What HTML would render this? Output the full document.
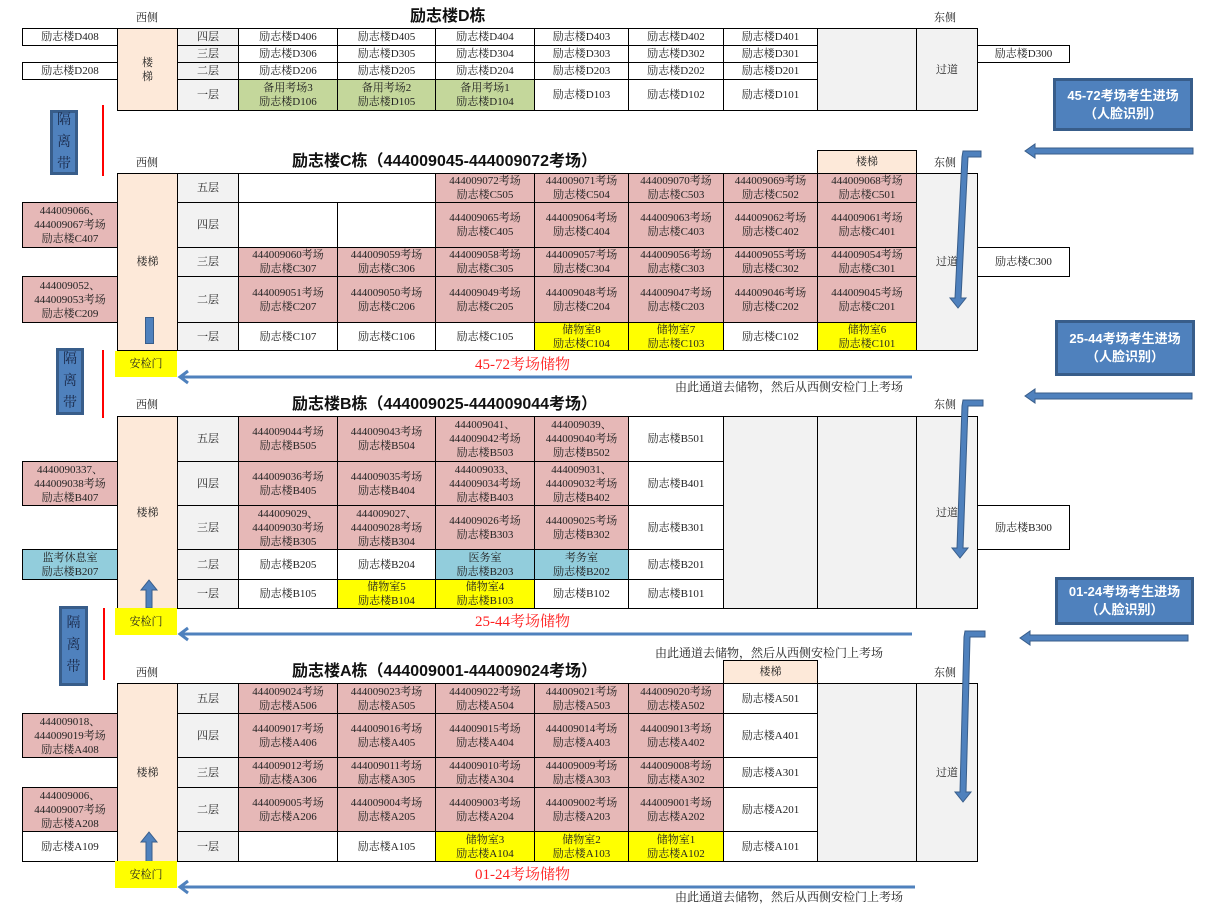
<!DOCTYPE html>
<html><head><meta charset="utf-8"><style>
body{margin:0;width:1209px;height:913px;background:#fff;position:relative;overflow:hidden;font-family:"Liberation Serif","Noto Serif CJK SC",serif;color:#222}
.c{position:absolute;box-sizing:border-box;border:1px solid #000;display:flex;align-items:center;justify-content:center;text-align:center;font-size:11px;line-height:14px;background:#fff;white-space:nowrap}
.p{background:#e6b8b7}.y{background:#ffff00}.g{background:#c4d79b}.b{background:#92cddc}.s{background:#fde9d9}.f{background:#f2f2f2}
.t{position:absolute;font-size:11px;line-height:14px;white-space:nowrap}
.h{position:absolute;font-family:"Liberation Sans","Noto Sans CJK SC",sans-serif;font-weight:bold;font-size:16px;line-height:18px;white-space:nowrap;color:#111}
.r{position:absolute;color:#ff2020;font-size:15px;line-height:18px;white-space:nowrap}
.bb{position:absolute;box-sizing:border-box;background:#4f81bd;border:3px solid #385d8a;color:#fff;font-family:"Liberation Sans","Noto Sans CJK SC",sans-serif;font-weight:bold;font-size:13px;line-height:18px;text-align:center;display:flex;align-items:center;justify-content:center}
.gl{position:absolute;box-sizing:border-box;background:#4f81bd;border:3px solid #385d8a;color:#1a2a4a;font-size:14px;line-height:22px;text-align:center;display:flex;align-items:center;justify-content:center}
.rl{position:absolute;width:2px;background:#ff0000}
</style></head><body>

<!-- D -->
<div class="t" style="left:136px;top:11px">西侧</div>
<div class="h" style="left:410px;top:8px">励志楼D栋</div>
<div class="t" style="left:934px;top:11px">东侧</div>
<div class="c" style="left:22px;top:28px;width:96px;height:18px">励志楼D408</div>
<div class="c" style="left:22px;top:62px;width:96px;height:18px">励志楼D208</div>
<div class="c s" style="left:117px;top:28px;width:61px;height:83px">楼<br>梯</div>
<div class="c f" style="left:177px;top:28px;width:62px;height:18px">四层</div>
<div class="c f" style="left:177px;top:45px;width:62px;height:18px">三层</div>
<div class="c f" style="left:177px;top:62px;width:62px;height:18px">二层</div>
<div class="c f" style="left:177px;top:79px;width:62px;height:32px">一层</div>
<div class="c" style="left:238px;top:28px;width:100px;height:18px">励志楼D406</div>
<div class="c" style="left:337px;top:28px;width:99px;height:18px">励志楼D405</div>
<div class="c" style="left:435px;top:28px;width:100px;height:18px">励志楼D404</div>
<div class="c" style="left:534px;top:28px;width:95px;height:18px">励志楼D403</div>
<div class="c" style="left:628px;top:28px;width:96px;height:18px">励志楼D402</div>
<div class="c" style="left:723px;top:28px;width:95px;height:18px">励志楼D401</div>
<div class="c" style="left:238px;top:45px;width:100px;height:18px">励志楼D306</div>
<div class="c" style="left:337px;top:45px;width:99px;height:18px">励志楼D305</div>
<div class="c" style="left:435px;top:45px;width:100px;height:18px">励志楼D304</div>
<div class="c" style="left:534px;top:45px;width:95px;height:18px">励志楼D303</div>
<div class="c" style="left:628px;top:45px;width:96px;height:18px">励志楼D302</div>
<div class="c" style="left:723px;top:45px;width:95px;height:18px">励志楼D301</div>
<div class="c" style="left:238px;top:62px;width:100px;height:18px">励志楼D206</div>
<div class="c" style="left:337px;top:62px;width:99px;height:18px">励志楼D205</div>
<div class="c" style="left:435px;top:62px;width:100px;height:18px">励志楼D204</div>
<div class="c" style="left:534px;top:62px;width:95px;height:18px">励志楼D203</div>
<div class="c" style="left:628px;top:62px;width:96px;height:18px">励志楼D202</div>
<div class="c" style="left:723px;top:62px;width:95px;height:18px">励志楼D201</div>
<div class="c g" style="left:238px;top:79px;width:100px;height:32px">备用考场3<br>励志楼D106</div>
<div class="c g" style="left:337px;top:79px;width:99px;height:32px">备用考场2<br>励志楼D105</div>
<div class="c g" style="left:435px;top:79px;width:100px;height:32px">备用考场1<br>励志楼D104</div>
<div class="c" style="left:534px;top:79px;width:95px;height:32px">励志楼D103</div>
<div class="c" style="left:628px;top:79px;width:96px;height:32px">励志楼D102</div>
<div class="c" style="left:723px;top:79px;width:95px;height:32px">励志楼D101</div>
<div class="c f" style="left:817px;top:28px;width:100px;height:83px"></div>
<div class="c f" style="left:916px;top:28px;width:62px;height:83px">过道</div>
<div class="c" style="left:977px;top:45px;width:93px;height:18px">励志楼D300</div>

<div class="gl" style="left:50px;top:110px;width:28px;height:65px">隔<br>离<br>带</div>
<div class="rl" style="left:102px;top:105px;height:71px"></div>
<div class="bb" style="left:1053px;top:78px;width:140px;height:53px">45-72考场考生进场<br>（人脸识别）</div>

<!-- C -->
<div class="t" style="left:136px;top:156px">西侧</div>
<div class="h" style="left:292px;top:153px">励志楼C栋（444009045-444009072考场）</div>
<div class="t" style="left:934px;top:156px">东侧</div>
<div class="c s" style="left:817px;top:150px;width:100px;height:24px">楼梯</div>
<div class="c p" style="left:22px;top:202px;width:96px;height:46px">444009066、<br>444009067考场<br>励志楼C407</div>
<div class="c p" style="left:22px;top:276px;width:96px;height:47px">444009052、<br>444009053考场<br>励志楼C209</div>
<div class="c s" style="left:117px;top:173px;width:61px;height:178px">楼梯</div>
<div class="c f" style="left:177px;top:173px;width:62px;height:30px">五层</div>
<div class="c f" style="left:177px;top:202px;width:62px;height:46px">四层</div>
<div class="c f" style="left:177px;top:247px;width:62px;height:30px">三层</div>
<div class="c f" style="left:177px;top:276px;width:62px;height:47px">二层</div>
<div class="c f" style="left:177px;top:322px;width:62px;height:29px">一层</div>
<div class="c" style="left:238px;top:173px;width:198px;height:30px"></div>
<div class="c p" style="left:435px;top:173px;width:100px;height:30px">444009072考场<br>励志楼C505</div>
<div class="c p" style="left:534px;top:173px;width:95px;height:30px">444009071考场<br>励志楼C504</div>
<div class="c p" style="left:628px;top:173px;width:96px;height:30px">444009070考场<br>励志楼C503</div>
<div class="c p" style="left:723px;top:173px;width:95px;height:30px">444009069考场<br>励志楼C502</div>
<div class="c p" style="left:817px;top:173px;width:100px;height:30px">444009068考场<br>励志楼C501</div>
<div class="c" style="left:238px;top:202px;width:100px;height:46px"></div>
<div class="c" style="left:337px;top:202px;width:99px;height:46px"></div>
<div class="c p" style="left:435px;top:202px;width:100px;height:46px">444009065考场<br>励志楼C405</div>
<div class="c p" style="left:534px;top:202px;width:95px;height:46px">444009064考场<br>励志楼C404</div>
<div class="c p" style="left:628px;top:202px;width:96px;height:46px">444009063考场<br>励志楼C403</div>
<div class="c p" style="left:723px;top:202px;width:95px;height:46px">444009062考场<br>励志楼C402</div>
<div class="c p" style="left:817px;top:202px;width:100px;height:46px">444009061考场<br>励志楼C401</div>
<div class="c p" style="left:238px;top:247px;width:100px;height:30px">444009060考场<br>励志楼C307</div>
<div class="c p" style="left:337px;top:247px;width:99px;height:30px">444009059考场<br>励志楼C306</div>
<div class="c p" style="left:435px;top:247px;width:100px;height:30px">444009058考场<br>励志楼C305</div>
<div class="c p" style="left:534px;top:247px;width:95px;height:30px">444009057考场<br>励志楼C304</div>
<div class="c p" style="left:628px;top:247px;width:96px;height:30px">444009056考场<br>励志楼C303</div>
<div class="c p" style="left:723px;top:247px;width:95px;height:30px">444009055考场<br>励志楼C302</div>
<div class="c p" style="left:817px;top:247px;width:100px;height:30px">444009054考场<br>励志楼C301</div>
<div class="c p" style="left:238px;top:276px;width:100px;height:47px">444009051考场<br>励志楼C207</div>
<div class="c p" style="left:337px;top:276px;width:99px;height:47px">444009050考场<br>励志楼C206</div>
<div class="c p" style="left:435px;top:276px;width:100px;height:47px">444009049考场<br>励志楼C205</div>
<div class="c p" style="left:534px;top:276px;width:95px;height:47px">444009048考场<br>励志楼C204</div>
<div class="c p" style="left:628px;top:276px;width:96px;height:47px">444009047考场<br>励志楼C203</div>
<div class="c p" style="left:723px;top:276px;width:95px;height:47px">444009046考场<br>励志楼C202</div>
<div class="c p" style="left:817px;top:276px;width:100px;height:47px">444009045考场<br>励志楼C201</div>
<div class="c" style="left:238px;top:322px;width:100px;height:29px">励志楼C107</div>
<div class="c" style="left:337px;top:322px;width:99px;height:29px">励志楼C106</div>
<div class="c" style="left:435px;top:322px;width:100px;height:29px">励志楼C105</div>
<div class="c y" style="left:534px;top:322px;width:95px;height:29px">储物室8<br>励志楼C104</div>
<div class="c y" style="left:628px;top:322px;width:96px;height:29px">储物室7<br>励志楼C103</div>
<div class="c" style="left:723px;top:322px;width:95px;height:29px">励志楼C102</div>
<div class="c y" style="left:817px;top:322px;width:100px;height:29px">储物室6<br>励志楼C101</div>
<div class="c f" style="left:916px;top:173px;width:62px;height:178px">过道</div>
<div class="c" style="left:977px;top:247px;width:93px;height:30px">励志楼C300</div>
<div style="position:absolute;left:145px;top:317px;width:7px;height:25px;background:#4f81bd;border:1px solid #385d8a"></div>
<div class="c y" style="left:115px;top:351px;width:62px;height:26px;border:none">安检门</div>
<div class="r" style="left:475px;top:356px">45-72考场储物</div>
<div class="t" style="left:675px;top:380px;font-size:12px">由此通道去储物，然后从西侧安检门上考场</div>

<div class="gl" style="left:56px;top:348px;width:28px;height:67px">隔<br>离<br>带</div>
<div class="rl" style="left:102px;top:350px;height:68px"></div>
<div class="bb" style="left:1055px;top:320px;width:140px;height:56px">25-44考场考生进场<br>（人脸识别）</div>

<!-- B -->
<div class="t" style="left:136px;top:398px">西侧</div>
<div class="h" style="left:292px;top:396px">励志楼B栋（444009025-444009044考场）</div>
<div class="t" style="left:934px;top:398px">东侧</div>
<div class="c p" style="left:22px;top:461px;width:96px;height:45px">4440090337、<br>444009038考场<br>励志楼B407</div>
<div class="c b" style="left:22px;top:549px;width:96px;height:31px">监考休息室<br>励志楼B207</div>
<div class="c s" style="left:117px;top:416px;width:61px;height:193px">楼梯</div>
<div class="c f" style="left:177px;top:416px;width:62px;height:46px">五层</div>
<div class="c f" style="left:177px;top:461px;width:62px;height:45px">四层</div>
<div class="c f" style="left:177px;top:505px;width:62px;height:45px">三层</div>
<div class="c f" style="left:177px;top:549px;width:62px;height:31px">二层</div>
<div class="c f" style="left:177px;top:579px;width:62px;height:30px">一层</div>
<div class="c p" style="left:238px;top:416px;width:100px;height:46px">444009044考场<br>励志楼B505</div>
<div class="c p" style="left:337px;top:416px;width:99px;height:46px">444009043考场<br>励志楼B504</div>
<div class="c p" style="left:435px;top:416px;width:100px;height:46px">444009041、<br>444009042考场<br>励志楼B503</div>
<div class="c p" style="left:534px;top:416px;width:95px;height:46px">444009039、<br>444009040考场<br>励志楼B502</div>
<div class="c" style="left:628px;top:416px;width:96px;height:46px">励志楼B501</div>
<div class="c p" style="left:238px;top:461px;width:100px;height:45px">444009036考场<br>励志楼B405</div>
<div class="c p" style="left:337px;top:461px;width:99px;height:45px">444009035考场<br>励志楼B404</div>
<div class="c p" style="left:435px;top:461px;width:100px;height:45px">444009033、<br>444009034考场<br>励志楼B403</div>
<div class="c p" style="left:534px;top:461px;width:95px;height:45px">444009031、<br>444009032考场<br>励志楼B402</div>
<div class="c" style="left:628px;top:461px;width:96px;height:45px">励志楼B401</div>
<div class="c p" style="left:238px;top:505px;width:100px;height:45px">444009029、<br>444009030考场<br>励志楼B305</div>
<div class="c p" style="left:337px;top:505px;width:99px;height:45px">444009027、<br>444009028考场<br>励志楼B304</div>
<div class="c p" style="left:435px;top:505px;width:100px;height:45px">444009026考场<br>励志楼B303</div>
<div class="c p" style="left:534px;top:505px;width:95px;height:45px">444009025考场<br>励志楼B302</div>
<div class="c" style="left:628px;top:505px;width:96px;height:45px">励志楼B301</div>
<div class="c" style="left:238px;top:549px;width:100px;height:31px">励志楼B205</div>
<div class="c" style="left:337px;top:549px;width:99px;height:31px">励志楼B204</div>
<div class="c b" style="left:435px;top:549px;width:100px;height:31px">医务室<br>励志楼B203</div>
<div class="c b" style="left:534px;top:549px;width:95px;height:31px">考务室<br>励志楼B202</div>
<div class="c" style="left:628px;top:549px;width:96px;height:31px">励志楼B201</div>
<div class="c" style="left:238px;top:579px;width:100px;height:30px">励志楼B105</div>
<div class="c y" style="left:337px;top:579px;width:99px;height:30px">储物室5<br>励志楼B104</div>
<div class="c y" style="left:435px;top:579px;width:100px;height:30px">储物室4<br>励志楼B103</div>
<div class="c" style="left:534px;top:579px;width:95px;height:30px">励志楼B102</div>
<div class="c" style="left:628px;top:579px;width:96px;height:30px">励志楼B101</div>
<div class="c f" style="left:723px;top:416px;width:95px;height:193px"></div>
<div class="c f" style="left:817px;top:416px;width:100px;height:193px"></div>
<div class="c f" style="left:916px;top:416px;width:62px;height:193px">过道</div>
<div class="c" style="left:977px;top:505px;width:93px;height:45px">励志楼B300</div>
<svg style="position:absolute;left:138px;top:578px" width="22" height="30"><polygon points="11,2 19,12 14,12 14,30 8,30 8,12 3,12" fill="#4f81bd" stroke="#385d8a"/></svg>
<div class="c y" style="left:115px;top:608px;width:62px;height:27px;border:none">安检门</div>
<div class="r" style="left:475px;top:613px">25-44考场储物</div>
<div class="t" style="left:655px;top:646px;font-size:12px">由此通道去储物，然后从西侧安检门上考场</div>

<div class="gl" style="left:59px;top:606px;width:29px;height:80px">隔<br>离<br>带</div>
<div class="rl" style="left:103px;top:608px;height:72px"></div>
<div class="bb" style="left:1055px;top:577px;width:139px;height:48px">01-24考场考生进场<br>（人脸识别）</div>

<!-- A -->
<div class="t" style="left:136px;top:666px">西侧</div>
<div class="h" style="left:292px;top:663px">励志楼A栋（444009001-444009024考场）</div>
<div class="t" style="left:934px;top:666px">东侧</div>
<div class="c s" style="left:723px;top:660px;width:95px;height:24px">楼梯</div>
<div class="c p" style="left:22px;top:713px;width:96px;height:45px">444009018、<br>444009019考场<br>励志楼A408</div>
<div class="c p" style="left:22px;top:787px;width:96px;height:45px">444009006、<br>444009007考场<br>励志楼A208</div>
<div class="c" style="left:22px;top:831px;width:96px;height:31px">励志楼A109</div>
<div class="c s" style="left:117px;top:683px;width:61px;height:179px">楼梯</div>
<div class="c f" style="left:177px;top:683px;width:62px;height:31px">五层</div>
<div class="c f" style="left:177px;top:713px;width:62px;height:45px">四层</div>
<div class="c f" style="left:177px;top:757px;width:62px;height:31px">三层</div>
<div class="c f" style="left:177px;top:787px;width:62px;height:45px">二层</div>
<div class="c f" style="left:177px;top:831px;width:62px;height:31px">一层</div>
<div class="c p" style="left:238px;top:683px;width:100px;height:31px">444009024考场<br>励志楼A506</div>
<div class="c p" style="left:337px;top:683px;width:99px;height:31px">444009023考场<br>励志楼A505</div>
<div class="c p" style="left:435px;top:683px;width:100px;height:31px">444009022考场<br>励志楼A504</div>
<div class="c p" style="left:534px;top:683px;width:95px;height:31px">444009021考场<br>励志楼A503</div>
<div class="c p" style="left:628px;top:683px;width:96px;height:31px">444009020考场<br>励志楼A502</div>
<div class="c" style="left:723px;top:683px;width:95px;height:31px">励志楼A501</div>
<div class="c p" style="left:238px;top:713px;width:100px;height:45px">444009017考场<br>励志楼A406</div>
<div class="c p" style="left:337px;top:713px;width:99px;height:45px">444009016考场<br>励志楼A405</div>
<div class="c p" style="left:435px;top:713px;width:100px;height:45px">444009015考场<br>励志楼A404</div>
<div class="c p" style="left:534px;top:713px;width:95px;height:45px">444009014考场<br>励志楼A403</div>
<div class="c p" style="left:628px;top:713px;width:96px;height:45px">444009013考场<br>励志楼A402</div>
<div class="c" style="left:723px;top:713px;width:95px;height:45px">励志楼A401</div>
<div class="c p" style="left:238px;top:757px;width:100px;height:31px">444009012考场<br>励志楼A306</div>
<div class="c p" style="left:337px;top:757px;width:99px;height:31px">444009011考场<br>励志楼A305</div>
<div class="c p" style="left:435px;top:757px;width:100px;height:31px">444009010考场<br>励志楼A304</div>
<div class="c p" style="left:534px;top:757px;width:95px;height:31px">444009009考场<br>励志楼A303</div>
<div class="c p" style="left:628px;top:757px;width:96px;height:31px">444009008考场<br>励志楼A302</div>
<div class="c" style="left:723px;top:757px;width:95px;height:31px">励志楼A301</div>
<div class="c p" style="left:238px;top:787px;width:100px;height:45px">444009005考场<br>励志楼A206</div>
<div class="c p" style="left:337px;top:787px;width:99px;height:45px">444009004考场<br>励志楼A205</div>
<div class="c p" style="left:435px;top:787px;width:100px;height:45px">444009003考场<br>励志楼A204</div>
<div class="c p" style="left:534px;top:787px;width:95px;height:45px">444009002考场<br>励志楼A203</div>
<div class="c p" style="left:628px;top:787px;width:96px;height:45px">444009001考场<br>励志楼A202</div>
<div class="c" style="left:723px;top:787px;width:95px;height:45px">励志楼A201</div>
<div class="c" style="left:238px;top:831px;width:100px;height:31px"></div>
<div class="c" style="left:337px;top:831px;width:99px;height:31px">励志楼A105</div>
<div class="c y" style="left:435px;top:831px;width:100px;height:31px">储物室3<br>励志楼A104</div>
<div class="c y" style="left:534px;top:831px;width:95px;height:31px">储物室2<br>励志楼A103</div>
<div class="c y" style="left:628px;top:831px;width:96px;height:31px">储物室1<br>励志楼A102</div>
<div class="c" style="left:723px;top:831px;width:95px;height:31px">励志楼A101</div>
<div class="c f" style="left:817px;top:683px;width:100px;height:179px"></div>
<div class="c f" style="left:916px;top:683px;width:62px;height:179px">过道</div>
<svg style="position:absolute;left:138px;top:830px" width="22" height="32"><polygon points="11,2 19,12 14,12 14,32 8,32 8,12 3,12" fill="#4f81bd" stroke="#385d8a"/></svg>
<div class="c y" style="left:115px;top:861px;width:62px;height:27px;border:none">安检门</div>
<div class="r" style="left:475px;top:866px">01-24考场储物</div>
<div class="t" style="left:675px;top:890px;font-size:12px">由此通道去储物，然后从西侧安检门上考场</div>

<!-- arrows -->
<svg style="position:absolute;left:0;top:0" width="1209" height="913">
<g stroke="#4f81bd" stroke-width="3" fill="none">
<line x1="182" y1="377" x2="912" y2="377"/>
<polyline points="188,371 180,377 188,383"/>
<line x1="182" y1="634" x2="912" y2="634"/>
<polyline points="188,628 180,634 188,640"/>
<line x1="182" y1="887" x2="915" y2="887"/>
<polyline points="188,881 180,887 188,893"/>
</g>
<g fill="#4f81bd" stroke="#385d8a" stroke-width="1">
<polygon points="1193,148 1035,148 1035,144 1025,151 1035,158 1035,154 1193,154"/>
<polygon points="1192,393 1035,393 1035,389 1025,396 1035,403 1035,399 1192,399"/>
<polygon points="1188,635 1030,635 1030,631 1020,638 1030,645 1030,641 1188,641"/>
<polygon points="963,151 981,151 981,157 968,157 961,298 966,298 958,308 950,298 955,298 962,157"/>
<polygon points="963,400 983,400 983,406 968,406 963,548 968,548 960,558 952,548 957,548 962,406"/>
<polygon points="965,631 985,631 985,637 970,637 966,792 971,792 963,802 955,792 960,792 964,637"/>
</g>
</svg>
</body></html>
